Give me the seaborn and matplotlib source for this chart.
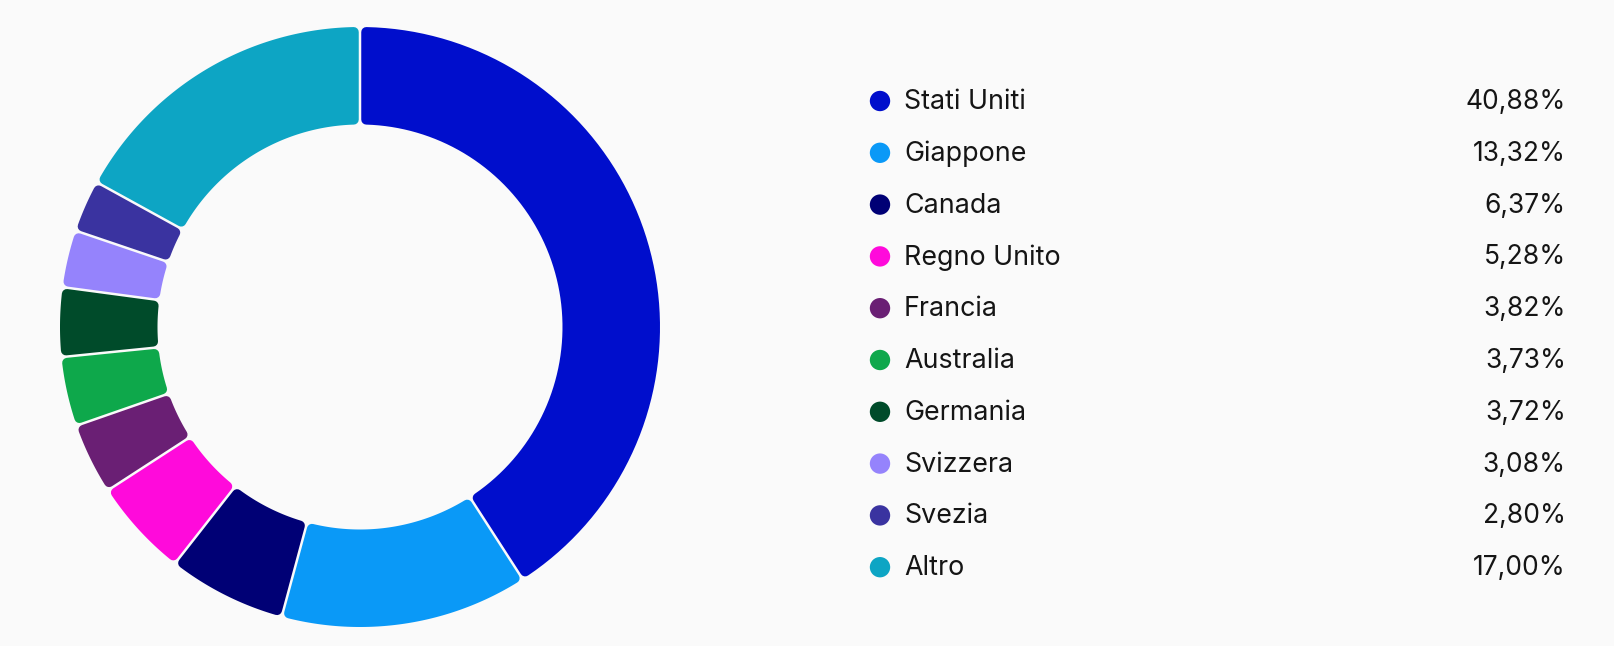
import matplotlib
matplotlib.use("Agg")
import matplotlib.pyplot as plt
from matplotlib.patches import Polygon
import seaborn as sns
import numpy as np
import pandas as pd

PAESI = ["Stati Uniti", "Giappone", "Canada", "Regno Unito", "Francia",
         "Australia", "Germania", "Svizzera", "Svezia", "Altro"]
QUOTE = [40.88, 13.32, 6.37, 5.28, 3.82, 3.73, 3.72, 3.08, 2.80, 17.00]
COLORI = ["#000ecc", "#0a99f7", "#000075", "#ff0adb", "#6a1f74",
          "#0ea84b", "#004b2a", "#9583fc", "#3a33a0", "#0da5c4"]
SFONDO = "#fafafa"

sns.set_style("white")
plt.rcParams["font.family"] = ["Inter", "DejaVu Sans"]

W, H = 1614, 646
fig = plt.figure(figsize=(W / 100, H / 100), dpi=100, facecolor=SFONDO)

# ---- ciambella ----
cx, cy, r = 360, 327, 300
pad = 10
ax = fig.add_axes([(cx - r - pad) / W, (H - cy - r - pad) / H,
                   2 * (r + pad) / W, 2 * (r + pad) / H])
ax.set_facecolor(SFONDO)
LARGHEZZA = 0.325
wedges, _ = ax.pie(QUOTE, colors=sns.color_palette(COLORI), startangle=90,
                   counterclock=False, radius=1.0,
                   wedgeprops=dict(width=LARGHEZZA, linewidth=0))
lim = (r + pad) / r
ax.set_xlim(-lim, lim)
ax.set_ylim(-lim, lim)
ax.set_aspect("equal")
ax.set_axis_off()

# angoli arrotondati: spicchio ridotto + bordo spesso con giunture tonde
rc = 5 / r       # raggio angolo
gap = 2.5 / r    # spazio tra spicchi
for w in wedges:
    t1, t2 = np.deg2rad(w.theta1), np.deg2rad(w.theta2)
    d = rc + gap / 2
    ro, ri = 1 - rc, 1 - LARGHEZZA + rc
    ao, ai = np.arcsin(d / ro), np.arcsin(d / ri)
    est = np.linspace(t1 + ao, t2 - ao, 80)
    intr = np.linspace(t2 - ai, t1 + ai, 80)
    xs = np.concatenate([ro * np.cos(est), ri * np.cos(intr)])
    ys = np.concatenate([ro * np.sin(est), ri * np.sin(intr)])
    col = w.get_facecolor()
    ax.add_patch(Polygon(np.column_stack([xs, ys]), closed=True, facecolor=col,
                         edgecolor=col, linewidth=2 * rc * r * 0.72,
                         joinstyle="round"))
    w.set_visible(False)

# ---- legenda ----
lax = fig.add_axes([0, 0, 1, 1], facecolor="none")
df = pd.DataFrame({"paese": PAESI, "quota": QUOTE,
                   "y": [101 + i * 51.8 for i in range(len(PAESI))]})
df["x"] = 880
sns.scatterplot(data=df, x="x", y="y", hue="paese", palette=COLORI, s=215,
                linewidth=0, legend=False, ax=lax)
lax.set_xlim(0, W)
lax.set_ylim(H, 0)
lax.set_axis_off()
for _, row in df.iterrows():
    lax.text(904, row.y + 1, row.paese, fontsize=19.3, va="center", ha="left",
             color="#151515")
    lax.text(1566, row.y + 1, f"{row.quota:.2f}%".replace(".", ","), fontsize=19,
             va="center", ha="right", color="#151515")

fig.savefig("out.png", dpi=100, facecolor=SFONDO)
